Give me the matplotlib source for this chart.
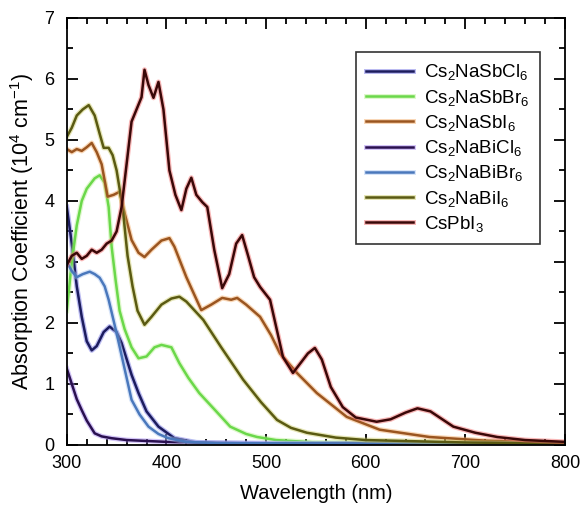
import matplotlib
matplotlib.use("Agg")
import matplotlib.pyplot as plt
import matplotlib.patheffects as pe
from matplotlib.ticker import MultipleLocator

plt.rcParams['font.family'] = ['Liberation Sans', 'DejaVu Sans']
plt.rcParams['mathtext.fontset'] = 'custom'
plt.rcParams['mathtext.rm'] = 'Liberation Sans'
plt.rcParams['mathtext.it'] = 'Liberation Sans:italic'

# wavelength (nm) / absorption (10^4 cm^-1)
wl_sbcl = [300, 305, 310, 315, 320, 325, 330, 337, 343, 350, 355, 365, 372, 380, 392, 408, 430, 500, 800]
ab_sbcl = [3.9, 3.3, 2.6, 2.1, 1.7, 1.55, 1.62, 1.85, 1.94, 1.85, 1.67, 1.15, 0.85, 0.55, 0.3, 0.11, 0.04, 0.02, 0.01]

wl_sbbr = [300, 305, 310, 315, 320, 328, 333, 338, 342, 345, 349, 353, 358, 365, 372, 380, 388, 395, 405, 413, 422, 433, 450, 464, 480, 491, 510, 550, 800]
ab_sbbr = [2.2, 3.0, 3.6, 4.0, 4.2, 4.37, 4.42, 4.3, 3.9, 3.25, 2.7, 2.2, 1.9, 1.6, 1.42, 1.45, 1.6, 1.64, 1.6, 1.34, 1.1, 0.85, 0.55, 0.3, 0.18, 0.13, 0.08, 0.04, 0.02]

wl_sbi = [300, 305, 310, 315, 320, 325, 330, 335, 341, 347, 353, 358, 365, 372, 378, 385, 395, 403, 408, 420, 435, 445, 456, 465, 471, 480, 494, 505, 514, 531, 551, 581, 614, 664, 720, 800]
ab_sbi = [4.85, 4.8, 4.85, 4.82, 4.88, 4.95, 4.8, 4.6, 4.07, 4.1, 4.15, 3.8, 3.36, 3.15, 3.08, 3.2, 3.35, 3.39, 3.25, 2.75, 2.21, 2.3, 2.41, 2.38, 2.41, 2.3, 2.1, 1.8, 1.5, 1.18, 0.85, 0.46, 0.25, 0.13, 0.07, 0.03]

wl_bicl = [300, 305, 310, 315, 320, 328, 335, 345, 360, 400, 450, 800]
ab_bicl = [1.25, 1.0, 0.75, 0.57, 0.4, 0.19, 0.14, 0.11, 0.08, 0.05, 0.03, 0.01]

wl_bibr = [300, 305, 310, 316, 323, 328, 333, 338, 342, 350, 358, 365, 373, 382, 392, 402, 420, 450, 800]
ab_bibr = [3.0, 2.85, 2.75, 2.8, 2.84, 2.8, 2.74, 2.6, 2.38, 1.83, 1.25, 0.74, 0.5, 0.3, 0.18, 0.11, 0.05, 0.03, 0.01]

wl_bii = [300, 305, 310, 316, 322, 328, 333, 337, 342, 346, 350, 356, 361, 366, 371, 378, 385, 395, 405, 413, 420, 437, 455, 477, 495, 511, 525, 541, 570, 600, 700, 800]
ab_bii = [5.05, 5.2, 5.4, 5.5, 5.57, 5.4, 5.1, 4.87, 4.87, 4.75, 4.5, 3.9, 3.1, 2.6, 2.2, 1.97, 2.1, 2.3, 2.4, 2.43, 2.35, 2.05, 1.6, 1.07, 0.7, 0.41, 0.28, 0.2, 0.12, 0.08, 0.04, 0.02]

wl_pb = [300, 305, 310, 315, 320, 325, 330, 335, 340, 345, 350, 355, 360, 365, 370, 375, 378, 382, 387, 392, 397, 403, 409, 415, 420, 425, 430, 436, 441, 448, 456, 463, 470, 476, 482, 488, 494, 504, 517, 527, 535, 542, 549, 556, 565, 577, 590, 611, 625, 640, 652, 665, 688, 710, 732, 760, 800]
ab_pb = [2.95, 3.1, 3.15, 3.05, 3.1, 3.2, 3.15, 3.2, 3.3, 3.35, 3.5, 3.9, 4.6, 5.3, 5.5, 5.7, 6.15, 5.9, 5.69, 5.95, 5.5, 4.5, 4.1, 3.85, 4.2, 4.38, 4.1, 3.98, 3.9, 3.2, 2.57, 2.8, 3.3, 3.44, 3.1, 2.75, 2.59, 2.38, 1.44, 1.18, 1.35, 1.5, 1.59, 1.4, 0.95, 0.62, 0.45, 0.38, 0.42, 0.53, 0.6, 0.55, 0.3, 0.2, 0.13, 0.08, 0.05]

labels = [r'Cs$_2$NaSbCl$_6$', r'Cs$_2$NaSbBr$_6$', r'Cs$_2$NaSbI$_6$', r'Cs$_2$NaBiCl$_6$',
          r'Cs$_2$NaBiBr$_6$', r'Cs$_2$NaBiI$_6$', r'CsPbI$_3$']
series = [(wl_sbcl, ab_sbcl), (wl_sbbr, ab_sbbr), (wl_sbi, ab_sbi), (wl_bicl, ab_bicl),
          (wl_bibr, ab_bibr), (wl_bii, ab_bii), (wl_pb, ab_pb)]
cores = ['#1c1c5e', '#6ad84a', '#9a5520', '#2a1050', '#4a78bc', '#5a5a12', '#3a0808']
halos = ['#6a6ae0', '#b8f090', '#f2a860', '#a080f0', '#a8c4f0', '#c8c860', '#f06060']

fig = plt.figure(figsize=(5.86, 5.12), dpi=100)
ax = fig.add_axes([0.114, 0.131, 0.850, 0.834])

for (x, y), lab, c, h in zip(series, labels, cores, halos):
    ax.plot(x, y, color=c, lw=1.8, label=lab, solid_joinstyle='round',
            path_effects=[pe.Stroke(linewidth=3.6, foreground=h, alpha=0.45), pe.Normal()])

ax.set_xlim(300, 800)
ax.set_ylim(0, 7)
ax.xaxis.set_major_locator(MultipleLocator(100))
ax.xaxis.set_minor_locator(MultipleLocator(20))
ax.yaxis.set_major_locator(MultipleLocator(1))
ax.yaxis.set_minor_locator(MultipleLocator(0.5))
ax.tick_params(which='both', direction='in', top=True, right=True, labelsize=13, width=1.3)
ax.tick_params(which='major', length=8)
ax.tick_params(which='minor', length=4)
ax.tick_params(axis='x', which='major', pad=7)
ax.tick_params(axis='y', which='major', pad=9)
for s in ax.spines.values():
    s.set_linewidth(1.3)

ax.set_xlabel('Wavelength (nm)', fontsize=14.5, labelpad=9)
ax.set_ylabel('Absorption Coefficient (10$^4$ cm$^{-1}$)', fontsize=15.5, labelpad=6)

leg = ax.legend(loc='upper right', bbox_to_anchor=(0.95, 0.92), borderaxespad=0, fontsize=13.5,
                frameon=True, fancybox=False, edgecolor='black', handlelength=2.5,
                handletextpad=0.6, labelspacing=0.28, borderpad=0.55)
leg.get_frame().set_linewidth(1.2)

fig.savefig('out.png', dpi=100)
